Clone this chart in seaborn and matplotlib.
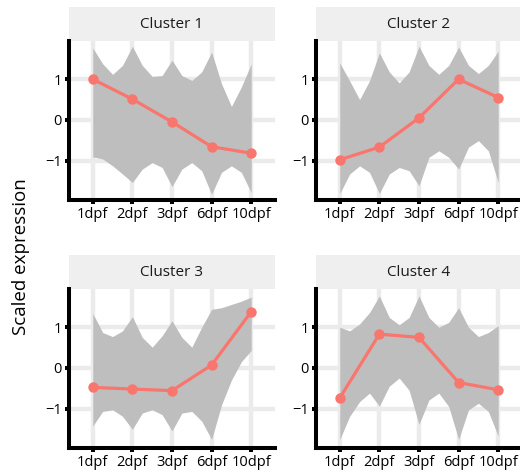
import matplotlib
matplotlib.use("Agg")
import matplotlib.pyplot as plt
import pandas as pd
import seaborn as sns
from matplotlib.patches import Rectangle

stages = ["1dpf", "2dpf", "3dpf", "6dpf", "10dpf"]
clusters = ["Cluster 1", "Cluster 2", "Cluster 3", "Cluster 4"]

# cluster centroid (mean scaled expression) at each stage
mean_c1 = [1.00, 0.51, -0.05, -0.66, -0.82]
mean_c2 = [-0.98, -0.67, 0.05, 1.00, 0.55]
mean_c3 = [-0.48, -0.52, -0.56, 0.07, 1.38]
mean_c4 = [-0.74, 0.83, 0.75, -0.36, -0.54]

# envelope of the member gene profiles, sampled every quarter stage
band_pos = [0, 0.25, 0.5, 0.75, 1, 1.25, 1.5, 1.75, 2,
            2.25, 2.5, 2.75, 3, 3.25, 3.5, 3.75, 4]
upper_c1 = [1.77, 1.38, 1.12, 1.34, 1.81, 1.34, 1.07, 1.09, 1.47,
            1.09, 0.97, 1.18, 1.67, 0.89, 0.33, 0.81, 1.38]
lower_c1 = [-0.91, -0.96, -1.13, -1.33, -1.54, -1.21, -1.05, -1.17, -1.64,
            -1.21, -1.05, -1.25, -1.83, -1.29, -1.13, -1.29, -1.79]
upper_c2 = [1.40, 0.96, 0.50, 0.96, 1.65, 1.18, 0.91, 1.18, 1.81,
            1.34, 1.12, 1.34, 1.79, 1.34, 1.14, 1.34, 1.69]
lower_c2 = [-1.81, -1.33, -1.13, -1.29, -1.81, -1.33, -1.17, -1.25, -1.62,
            -0.92, -0.76, -0.92, -1.21, -0.67, -0.51, -0.76, -1.54]
upper_c3 = [1.34, 0.87, 0.77, 0.91, 1.26, 0.75, 0.51, 0.79, 1.16,
            0.75, 0.51, 1.00, 1.44, 1.48, 1.56, 1.64, 1.74]
lower_c3 = [-1.43, -1.07, -1.03, -1.19, -1.51, -1.11, -1.03, -1.15, -1.55,
            -1.11, -1.07, -1.31, -1.76, -0.91, -0.30, 0.15, 0.43]
upper_c4 = [1.00, 0.91, 1.08, 1.36, 1.77, 1.24, 1.06, 1.24, 1.77,
            1.24, 1.00, 1.12, 1.48, 1.00, 0.77, 0.87, 1.04]
lower_c4 = [-1.76, -1.19, -0.83, -0.62, -0.94, -0.45, -0.25, -0.55, -1.39,
            -0.79, -0.62, -0.95, -1.76, -1.03, -0.87, -1.07, -1.68]

means = [mean_c1, mean_c2, mean_c3, mean_c4]
uppers = [upper_c1, upper_c2, upper_c3, upper_c4]
lowers = [lower_c1, lower_c2, lower_c3, lower_c4]

sns.set_theme(style="white")
plt.rcParams["font.family"] = ["Open Sans", "DejaVu Sans"]

W, H = 520, 474
fig = plt.figure(figsize=(W / 100, H / 100), dpi=100)

# panel boxes in pixels: left, top, right, bottom
boxes = [(69, 41, 275, 200), (316, 41, 522, 200),
         (69, 289, 275, 448), (316, 289, 522, 448)]
strip_px = 34
red = "#F8766D"

for name, box, mean, up, lo in zip(clusters, boxes, means, uppers, lowers):
    l, t, r, b = box
    ax = fig.add_axes([l / W, 1 - b / H, (r - l) / W, (b - t) / H])
    ax.set_axisbelow(True)
    ax.grid(True, color="#ebebeb", lw=3.2)

    ax.fill_between(band_pos, lo, up, color="#bebebe", lw=0, zorder=1)

    df = pd.DataFrame({"pos": list(range(len(stages))), "value": mean})
    sns.lineplot(data=df, x="pos", y="value", ax=ax, color=red, lw=2.3,
                 marker="o", markersize=7.5, markeredgewidth=0, zorder=3)

    ax.set_xlim(-0.6, 4.6)
    ax.set_ylim(-1.97, 1.94)
    ax.set_xticks(range(len(stages)))
    ax.set_xticklabels(stages)
    ax.set_yticks([-1, 0, 1])
    ax.set_yticklabels(["\u22121", "0", "1"])
    ax.set_xlabel("")
    ax.set_ylabel("")

    for s in ["top", "right"]:
        ax.spines[s].set_visible(False)
    for s in ["left", "bottom"]:
        ax.spines[s].set_color("black")
        ax.spines[s].set_linewidth(2.9)
        ax.spines[s].set_capstyle("projecting")
    ax.tick_params(axis="both", length=3, width=2.9, color="black",
                   labelsize=10.5, labelcolor="black", pad=2,
                   bottom=True, left=True)

    strip_h = strip_px / (b - t)
    ax.add_patch(Rectangle((0, 1), 1, strip_h, transform=ax.transAxes,
                           facecolor="#efefef", edgecolor="none", clip_on=False))
    ax.text(0.5, 1 + strip_h / 2, name, transform=ax.transAxes,
            ha="center", va="center", fontsize=11, color="#1a1a1a")

fig.text(21 / W, 1 - 257 / H, "Scaled expression", rotation=90,
         ha="center", va="center", fontsize=13.5, color="black")

fig.savefig("out.png", dpi=100)
